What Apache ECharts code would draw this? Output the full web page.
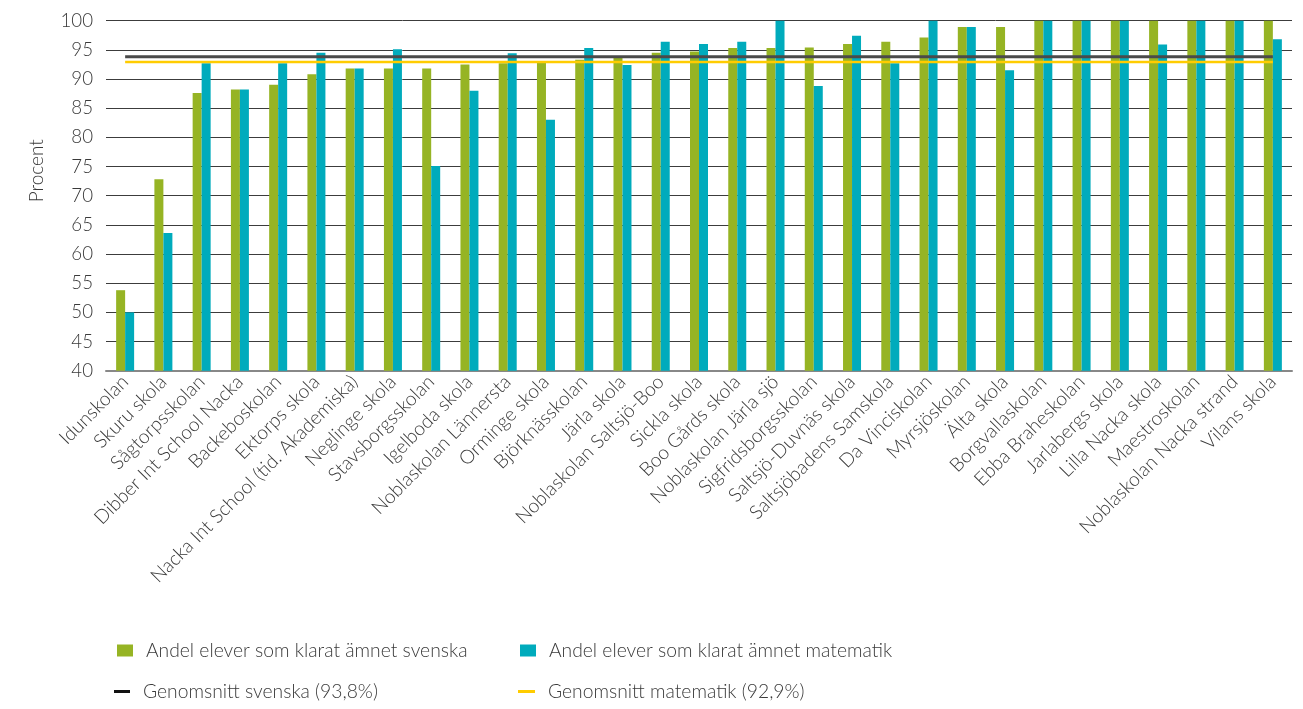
<!DOCTYPE html>
<html>
<head>
<meta charset="utf-8">
<script src="https://cdn.jsdelivr.net/npm/echarts@6/dist/echarts.min.js"></script>
<style>
html,body{margin:0;padding:0;background:#fff;}
#chart{width:1303px;height:709px;}
</style>
</head>
<body>
<div id="chart"></div>
<script>
const schools = [
  'Idunskolan','Skuru skola','Sågtorpsskolan','Dibber Int School Nacka','Backeboskolan',
  'Ektorps skola','Nacka Int School (tid. Akademiska)','Neglinge skola','Stavsborgsskolan','Igelboda skola',
  'Noblaskolan Lännersta','Orminge skola','Björknässkolan','Järla skola','Noblaskolan Saltsjö-Boo',
  'Sickla skola','Boo Gårds skola','Noblaskolan Järla sjö','Sigfridsborgsskolan','Saltsjö-Duvnäs skola',
  'Saltsjöbadens Samskola','Da Vinciskolan','Myrsjöskolan','Älta skola','Borgvallaskolan',
  'Ebba Braheskolan','Jarlabergs skola','Lilla Nacka skola','Maestroskolan','Noblaskolan Nacka strand',
  'Vilans skola'
];
const svenska = [
  53.8, 72.8, 87.6, 88.2, 89.0,
  90.8, 91.8, 91.8, 91.8, 92.5,
  92.7, 92.9, 93.3, 93.6, 94.5,
  94.7, 95.3, 95.3, 95.4, 96.0,
  96.4, 97.1, 98.9, 98.9, 100,
  100, 100, 100, 100, 100,
  100
];
const matematik = [
  50.0, 63.6, 92.7, 88.2, 92.7,
  94.5, 91.8, 95.1, 75.1, 88.0,
  94.4, 83.0, 95.3, 92.4, 96.4,
  96.0, 96.4, 100, 88.8, 97.4,
  92.7, 100, 98.9, 91.5, 100,
  100, 100, 95.9, 100, 100,
  96.8
];
const avgSvenska = 93.8;
const avgMatematik = 92.9;
const seriesNames = [
  'Andel elever som klarat ämnet svenska',
  'Andel elever som klarat ämnet matematik',
  'Genomsnitt svenska (93,8%)',
  'Genomsnitt matematik (92,9%)'
];
const yTicks = {min: 40, max: 100, interval: 5};

const FONT = 'Lato, "Noto Sans", sans-serif';
const TXT = '#3a3a3a';
const C_GREEN = '#96b424';
const C_TEAL = '#00abbc';
const C_BLACK = '#4a4a4a';
const C_YELLOW = '#ffcc00';

const chart = echarts.init(document.getElementById('chart'), null, {renderer: 'canvas'});

function leg(name, left, top, w, h) {
  return {
    data: [name], left: left, top: top, orient: 'horizontal',
    icon: 'rect', itemWidth: w, itemHeight: h, padding: 0,
    selectedMode: false,
    textStyle: {fontFamily: FONT, fontSize: 19.3, color: TXT, fontWeight: 300, padding: [0,0,0,8]}
  };
}

chart.setOption({
  animation: false,
  backgroundColor: '#fff',
  grid: {left: 106, right: 11, top: 20.7, bottom: 338.3, containLabel: false},
  legend: [
    leg(seriesNames[0], 117, 641, 16, 12),
    leg(seriesNames[1], 520, 641, 16, 12),
    leg(seriesNames[2], 114, 682, 16, 3),
    leg(seriesNames[3], 518, 682, 17, 3)
  ],
  xAxis: {
    type: 'category',
    data: schools,
    axisLine: {show: true, lineStyle: {color: '#888', width: 2}},
    axisTick: {show: false},
    axisLabel: {rotate: 45, interval: 0, margin: 8, fontFamily: FONT, fontSize: 19.3, fontWeight: 300, color: TXT}
  },
  yAxis: {
    type: 'value',
    min: yTicks.min, max: yTicks.max, interval: yTicks.interval,
    name: 'Procent', nameLocation: 'middle', nameGap: 60, nameRotate: 90,
    nameTextStyle: {fontFamily: FONT, fontSize: 19, fontWeight: 300, color: TXT, padding: [0,0,0,50]},
    axisLine: {show: false},
    axisTick: {show: false},
    axisLabel: {margin: 13, fontFamily: FONT, fontSize: 18.7, fontWeight: 300, color: TXT},
    splitLine: {show: true, lineStyle: {color: '#3c3c3c', width: 1}}
  },
  series: [
    {name: seriesNames[0], type: 'bar', data: svenska, barWidth: 9, barGap: '0%',
     itemStyle: {color: C_GREEN}, z: 2},
    {name: seriesNames[1], type: 'bar', data: matematik, barWidth: 9, barGap: '0%',
     itemStyle: {color: C_TEAL}, z: 2},
    {name: seriesNames[2], type: 'line', data: schools.map(() => avgSvenska),
     symbol: 'none', lineStyle: {color: C_BLACK, width: 3}, itemStyle: {color: '#111'}, z: 4},
    {name: seriesNames[3], type: 'line', data: schools.map(() => avgMatematik),
     symbol: 'none', lineStyle: {color: C_YELLOW, width: 2.5}, itemStyle: {color: C_YELLOW}, z: 4}
  ]
});
</script>
</body>
</html>
